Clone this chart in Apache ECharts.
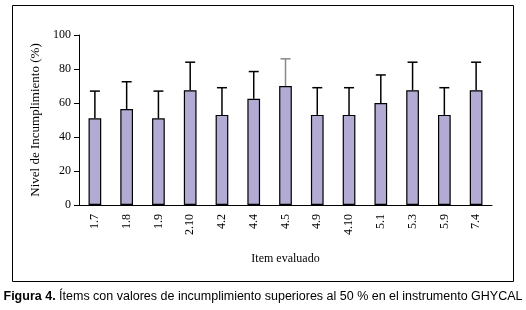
<!DOCTYPE html>
<html>
<head>
<meta charset="utf-8">
<script src="https://cdn.jsdelivr.net/npm/echarts@6/dist/echarts.min.js"></script>
<style>
  html, body { margin: 0; padding: 0; background: #fff; }
  #chart { width: 526px; height: 310px; }
</style>
</head>
<body>
<div id="chart"></div>
<script>
// datos
const items = ['1.7', '1.8', '1.9', '2.10', '4.2', '4.4', '4.5', '4.9', '4.10', '5.1', '5.3', '5.9', '7.4']
const incumplimiento = [51, 56.5, 51, 67.5, 53, 62.5, 70, 53, 53, 60, 67.5, 53, 67.5]
const errorSuperior = [67, 72.5, 67, 84, 69, 78.5, 86, 69, 69, 76.5, 84, 69, 84]
const yTicks = [0, 20, 40, 60, 80, 100]

const serif = '"Liberation Serif", "DejaVu Serif", serif'
const sans = '"Liberation Sans", Arial, sans-serif'

const chart = echarts.init(document.getElementById('chart'))

const option = {
  animation: false,
  backgroundColor: '#fff',
  grid: { left: 79, right: 34, top: 35, bottom: 105 },
  xAxis: {
    type: 'category',
    data: items,
    name: 'Item evaluado',
    nameLocation: 'middle',
    nameGap: 48,
    nameTextStyle: { fontFamily: serif, fontSize: 12, color: '#000' },
    axisLine: { lineStyle: { color: '#000', width: 1 } },
    axisTick: { show: false },
    axisLabel: { rotate: 90, margin: 9, fontFamily: serif, fontSize: 12, color: '#000' }
  },
  yAxis: {
    type: 'value',
    min: yTicks[0],
    max: yTicks[yTicks.length - 1],
    interval: 20,
    name: 'Nivel de Incumplimiento (%)',
    nameLocation: 'middle',
    nameGap: 31,
    nameTextStyle: { fontFamily: serif, fontSize: 13, color: '#000' },
    axisLine: { show: true, lineStyle: { color: '#000', width: 1 } },
    axisTick: { show: true, length: 5, lineStyle: { color: '#000' } },
    axisLabel: { margin: 8, fontFamily: serif, fontSize: 12, color: '#000' },
    splitLine: { show: false }
  },
  series: [
    {
      type: 'bar',
      data: incumplimiento,
      barWidth: '40%',
      itemStyle: { color: '#b3abd3', borderColor: '#000', borderWidth: 1.2 },
      z: 2
    },
    {
      type: 'custom',
      z: 3,
      data: items.map((it, i) => [i, incumplimiento[i], errorSuperior[i]]),
      renderItem (params, api) {
        const base = api.coord([api.value(0), api.value(1)])
        const top = api.coord([api.value(0), api.value(2)])
        const color = items[params.dataIndex] === '4.5' ? '#888' : '#000'
        const style = { stroke: color, lineWidth: 1.5 }
        return {
          type: 'group',
          children: [
            { type: 'line', shape: { x1: base[0], y1: base[1], x2: top[0], y2: top[1] }, style },
            { type: 'line', shape: { x1: top[0] - 5, y1: top[1], x2: top[0] + 5, y2: top[1] }, style }
          ]
        }
      }
    }
  ],
  graphic: [
    {
      type: 'rect',
      shape: { x: 12.5, y: 5.5, width: 501, height: 276 },
      style: { fill: null, stroke: '#000', lineWidth: 1 },
      silent: true
    },
    {
      type: 'text',
      left: 'center',
      top: 290,
      style: {
        text: '{b|Figura 4.} Ítems con valores de incumplimiento superiores al 50 % en el instrumento GHYCAL',
        font: '12.5px ' + sans,
        fill: '#000',
        rich: {
          b: { fontWeight: 'bold', fontFamily: sans, fontSize: 12.5, fill: '#000' }
        }
      }
    }
  ]
}

chart.setOption(option)
</script>
</body>
</html>
